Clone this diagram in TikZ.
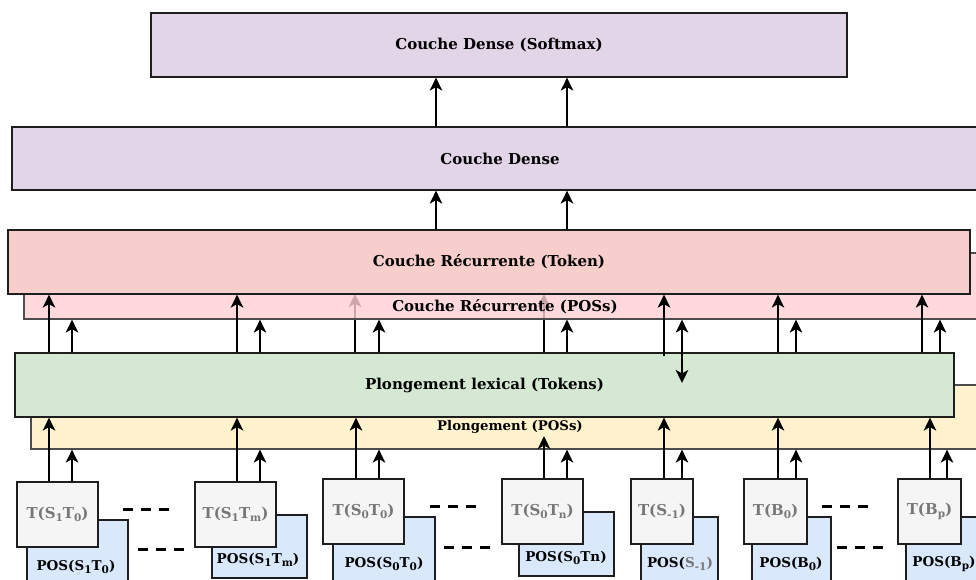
\documentclass[tikz,border=0pt]{standalone}
\usepackage{fontspec}
\setmainfont{DejaVu Serif}
\usetikzlibrary{arrows.meta}
\definecolor{purp}{HTML}{E1D5E7}
\definecolor{tokred}{HTML}{F8CECC}
\definecolor{posred}{HTML}{FFD0D3}
\definecolor{lexgreen}{HTML}{D5E8D4}
\definecolor{posyel}{HTML}{FFF2CC}
\definecolor{tgray}{HTML}{F5F5F5}
\definecolor{tgraytext}{HTML}{777777}
\definecolor{posblue}{HTML}{DAE8FC}
\definecolor{edge}{HTML}{1E1E1E}
\definecolor{softedge}{HTML}{4D4D4D}
\newcommand\lowsub[1]{\raisebox{-0.45ex}{\fontsize{10.5}{11}\selectfont #1}}
\begin{document}
\begin{tikzpicture}[x=1pt,y=-1pt,
  layer/.style={draw=edge, line width=1.2pt, inner sep=0pt, anchor=center},
  lbl/.style={font=\bfseries\fontsize{15}{17}\selectfont, text=black},
  smalllbl/.style={font=\bfseries\fontsize{13.3}{15}\selectfont, text=black},
  tbox/.style={draw=edge, line width=1.2pt, fill=tgray, inner sep=0pt,
     font=\bfseries\fontsize{15}{17}\selectfont, text=tgraytext},
  pbox/.style={draw=edge, line width=1.2pt, fill=posblue, inner sep=0pt},
  plbl/.style={font=\bfseries\fontsize{13.5}{15}\selectfont, text=black, inner sep=0pt},
  arr/.style={line width=1.7pt, draw=black, -{Stealth[length=13pt,width=12.5pt,inset=3.5pt]}},
  darr/.style={line width=1.7pt, draw=black, {Stealth[length=13pt,width=12.5pt,inset=3.5pt]}-{Stealth[length=13pt,width=12.5pt,inset=3.5pt]}},
  dashl/.style={line width=3pt, dash pattern=on 10pt off 8pt}
]
\useasboundingbox (0,0) rectangle (976,580);
\clip (0,0) rectangle (976,580);

% column coordinates
\coordinate (c1a) at (49,0);  \coordinate (c1b) at (72,0);
\coordinate (c2a) at (237,0); \coordinate (c2b) at (260,0);
\coordinate (c3a) at (355,0); \coordinate (c3b) at (379,0);
\coordinate (c3c) at (356,0);
\coordinate (c4a) at (544,0); \coordinate (c4b) at (567,0);
\coordinate (c5a) at (664,0); \coordinate (c5b) at (682,0);
\coordinate (c6a) at (778,0); \coordinate (c6b) at (796,0);
\coordinate (c7a) at (922,0); \coordinate (c7b) at (940,0);
\coordinate (c7c) at (930,0); \coordinate (c7d) at (947,0);

% top layers
\node[layer, fill=purp, minimum width=696pt, minimum height=64pt, lbl] (softmax) at (499,45) {Couche Dense (Softmax)};
\node[layer, fill=purp, minimum width=976pt, minimum height=63pt, lbl] (dense) at (500,158.5) {Couche Dense};

% faded arrows (behind POS recurrent layer)
\draw[arr] (c3a |- 0,353) -- (c3a |- 0,294);
\draw[arr] (c4a |- 0,353) -- (c4a |- 0,294);

% recurrent layers
\node[layer, draw=softedge, fill=posred, fill opacity=0.8, draw opacity=1, minimum width=962pt, minimum height=66pt] (posrec) at (505,286) {};
\node[lbl] (posreclbl) at (505,307) {Couche Récurrente (POSs)};
\node[layer, fill=tokred, minimum width=962pt, minimum height=64pt, lbl] (tokrec) at (489,262) {Couche Récurrente (Token)};

% embedding layers
\node[layer, draw=softedge, fill=posyel, minimum width=958pt, minimum height=64pt] (posemb) at (510,417) {};
\node[layer, fill=lexgreen, minimum width=939pt, minimum height=64pt, lbl] (lex) at (484.5,385) {Plongement lexical (Tokens)};
\node[smalllbl] (posemblbl) at (510,427) {Plongement (POSs)};

% POS boxes
\node[pbox, minimum width=101pt, minimum height=70pt] (p1) at (77.5,555) {};
\node[pbox, minimum width=95pt, minimum height=63pt] (p2) at (259.5,546.5) {};
\node[pbox, minimum width=102pt, minimum height=73pt] (p3) at (384,553.5) {};
\node[pbox, minimum width=95pt, minimum height=64pt] (p4) at (566.5,544) {};
\node[pbox, minimum width=77pt, minimum height=73pt] (p5) at (679.5,553.5) {};
\node[pbox, minimum width=79pt, minimum height=73pt] (p6) at (791.5,553.5) {};
\node[pbox, minimum width=80pt, minimum height=73pt] (p7) at (946,553.5) {};

% T boxes
\node[tbox, minimum width=81pt, minimum height=65pt] (t1) at (57.5,514.5) {T(S\lowsub{1}T\lowsub{0})};
\node[tbox, minimum width=81pt, minimum height=65pt] (t2) at (235.5,514.5) {T(S\lowsub{1}T\lowsub{m})};
\node[tbox, minimum width=81pt, minimum height=65pt] (t3) at (363.5,511.5) {T(S\lowsub{0}T\lowsub{0})};
\node[tbox, minimum width=81pt, minimum height=65pt] (t4) at (542.5,511.5) {T(S\lowsub{0}T\lowsub{n})};
\node[tbox, minimum width=62pt, minimum height=65pt] (t5) at (662,511.5) {T(S\lowsub{-1})};
\node[tbox, minimum width=63pt, minimum height=65pt] (t6) at (775.5,511.5) {T(B\lowsub{0})};
\node[tbox, minimum width=63pt, minimum height=65pt] (t7) at (929.5,511.5) {T(B\lowsub{p})};

% POS labels
\node[plbl] (pl1) at (76,567) {POS(S\lowsub{1}T\lowsub{0})};
\node[plbl] (pl2) at (258,560) {POS(S\lowsub{1}T\lowsub{m})};
\node[plbl] (pl3) at (384,564) {POS(S\lowsub{0}T\lowsub{0})};
\node[plbl] (pl4) at (566,558) {POS(S\lowsub{0}Tn)};
\node[plbl] (pl5) at (680,564) {POS(\textcolor{tgraytext}{S\lowsub{-1})}};
\node[plbl] (pl6) at (791,564) {POS(B\lowsub{0})};
\node[plbl] (pl7) at (944,564) {POS(B\lowsub{p})};

% arrows to softmax and dense
\coordinate (ca) at (436,0); \coordinate (cb) at (567,0);
\draw[arr] (ca |- dense.north) -- (ca |- softmax.south);
\draw[arr] (cb |- dense.north) -- (cb |- softmax.south);
\draw[arr] (ca |- tokrec.north) -- (ca |- dense.south);
\draw[arr] (cb |- tokrec.north) -- (cb |- dense.south);

% arrows from embeddings to recurrent layers
\draw[arr] (c1a |- lex.north) -- (c1a |- tokrec.south);
\draw[arr] (c1b |- lex.north) -- (c1b |- posrec.south);
\draw[arr] (c2a |- lex.north) -- (c2a |- tokrec.south);
\draw[arr] (c2b |- lex.north) -- (c2b |- posrec.south);
\draw[line width=1.7pt] (c3a |- lex.north) -- (c3a |- posrec.south);
\draw[arr] (c3b |- lex.north) -- (c3b |- posrec.south);
\draw[line width=1.7pt] (c4a |- lex.north) -- (c4a |- posrec.south);
\draw[arr] (c4b |- lex.north) -- (c4b |- posrec.south);
\coordinate (c5start) at (664,356);
\draw[arr] (c5start) -- (c5a |- tokrec.south);
\coordinate (c5end) at (682,383);
\draw[darr] (c5b |- posrec.south) -- (c5end);
\draw[arr] (c6a |- lex.north) -- (c6a |- tokrec.south);
\draw[arr] (c6b |- lex.north) -- (c6b |- posrec.south);
\draw[arr] (c7a |- lex.north) -- (c7a |- tokrec.south);
\draw[arr] (c7b |- lex.north) -- (c7b |- posrec.south);

% arrows from tokens to embeddings
\draw[arr] (c1a |- t1.north) -- (c1a |- lex.south);
\draw[arr] (c1b |- t1.north) -- (c1b |- posemb.south);
\draw[arr] (c2a |- t2.north) -- (c2a |- lex.south);
\draw[arr] (c2b |- t2.north) -- (c2b |- posemb.south);
\draw[arr] (c3c |- t3.north) -- (c3c |- lex.south);
\draw[arr] (c3b |- t3.north) -- (c3b |- posemb.south);
\coordinate (c4tip) at (544,436);
\draw[arr] (c4a |- t4.north) -- (c4tip);
\draw[arr] (c4b |- t4.north) -- (c4b |- posemb.south);
\draw[arr] (c5a |- t5.north) -- (c5a |- lex.south);
\draw[arr] (c5b |- t5.north) -- (c5b |- posemb.south);
\draw[arr] (c6a |- t6.north) -- (c6a |- lex.south);
\draw[arr] (c6b |- t6.north) -- (c6b |- posemb.south);
\draw[arr] (c7c |- t7.north) -- (c7c |- lex.south);
\draw[arr] (c7d |- t7.north) -- (c7d |- posemb.south);

% dashed ellipses between token groups
\coordinate (d1a) at (123,509); \coordinate (d1b) at (172,509);
\coordinate (d1c) at (138,549); \coordinate (d1d) at (186,549);
\coordinate (d2a) at (430,506); \coordinate (d2b) at (478,506);
\coordinate (d2c) at (444,547); \coordinate (d2d) at (493,547);
\coordinate (d3a) at (822,506); \coordinate (d3b) at (870,506);
\coordinate (d3c) at (837,547); \coordinate (d3d) at (885,547);
\draw[dashl] (d1a) -- (d1b);
\draw[dashl] (d1c) -- (d1d);
\draw[dashl] (d2a) -- (d2b);
\draw[dashl] (d2c) -- (d2d);
\draw[dashl] (d3a) -- (d3b);
\draw[dashl] (d3c) -- (d3d);
\end{tikzpicture}
\end{document}
